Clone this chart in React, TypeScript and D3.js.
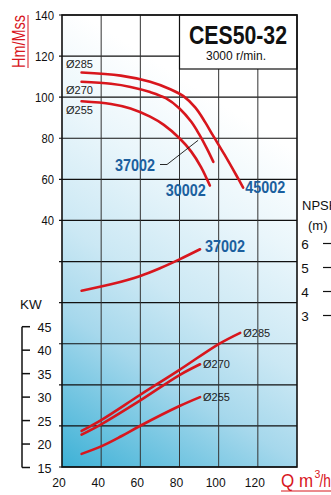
import React from "react";
import * as d3 from "d3";

// ---- data ----
const xTicks = [20, 40, 60, 80, 100, 120];
const hTicks = [40, 60, 80, 100, 120, 140];
const kwTicks = [15, 20, 25, 30, 35, 40, 45];
const npshTicks = [3, 4, 5, 6];

const q285 = [30, 50, 65, 75, 82, 88, 93, 97, 103, 109, 112.5];
const h285 = [112, 110.5, 107.5, 104, 100.5, 95, 88, 81.5, 72, 62, 56];
const q270 = [30, 45, 55, 65, 73, 80, 86, 90, 94, 97.3];
const h270 = [107.5, 106.5, 105, 102.5, 99.5, 94.5, 88, 82, 75, 68.5];
const q255 = [30, 45, 55, 65, 72, 80, 86, 91, 95.5];
const h255 = [98, 96.7, 94.5, 90.5, 86.5, 80, 73.5, 66, 57];

const qNpsh = [30, 45, 60, 70, 80, 90.5];
const npsh = [4.03, 4.3, 4.65, 4.97, 5.34, 5.76];

const qP285 = [30, 40, 60, 80, 100, 111];
const p285 = [22.8, 25.1, 30.5, 35.8, 41.3, 43.7];
const qP270 = [30, 40, 60, 80, 90.5];
const p270 = [22, 24.2, 29.3, 34.7, 37];
const qP255 = [30, 40, 50, 60, 80, 90.5];
const p255 = [17.9, 19.5, 21.6, 23.9, 28.1, 30];

const diaLabels = ["Ø285", "Ø270", "Ø255"];
const motorLabels = ["45002", "37002", "30002"];

const RED = "#d8161d";
const BLUE = "#1b5f9e";
const FONT = "'Liberation Sans', Arial, Helvetica, sans-serif";

export default function App() {
  const L = 62, R = 297, T = 15, B = 467;
  const x = d3.scaleLinear().domain([20, 140]).range([L, R]);
  const yH = d3.scaleLinear().domain([-80, 140]).range([B, T]);
  const yKW = d3.scaleLinear().domain([15, 45]).range([467.5, 326.7]);
  const yN = d3.scaleLinear().domain([3, 6]).range([315.5, 243.5]);

  const mk = (qs: number[], vs: number[], ys: d3.ScaleLinear<number, number>) =>
    d3.line<number>().x((_, i) => x(qs[i])).y((v) => ys(v)).curve(d3.curveCatmullRom.alpha(0.5))(vs) || "";

  const hGrid = d3.range(-80, 141, 20);
  const vGrid = d3.range(40, 121, 20);

  const end = (qs: number[], vs: number[], ys: any) => [x(qs[qs.length - 1]), ys(vs[vs.length - 1])];
  const e285 = end(q285, h285, yH);
  const e255 = end(q255, h255, yH);
  const eN = end(qNpsh, npsh, yN);
  const ep285 = end(qP285, p285, yKW);
  const ep270 = end(qP270, p270, yKW);
  const ep255 = end(qP255, p255, yKW);

  const curveStyle = { fill: "none", stroke: RED, strokeWidth: 2.6, strokeLinecap: "round" as const };

  return (
    <svg width={331} height={495} style={{ position: "absolute", left: 0, top: 0, fontFamily: FONT }}>
      <defs>
        <linearGradient id="bg" gradientUnits="userSpaceOnUse" x1={L} y1={B} x2={R} y2={100}>
          <stop offset="0" stopColor="#3db1d6" />
          <stop offset="0.3" stopColor="#a6d8ec" />
          <stop offset="0.47" stopColor="#cbe8f4" />
          <stop offset="0.7" stopColor="#eaf6fb" />
          <stop offset="0.9" stopColor="#ffffff" />
        </linearGradient>
      </defs>
      <rect x={0} y={0} width={331} height={495} fill="#fff" />
      <rect x={L} y={T} width={R - L} height={B - T} fill="url(#bg)" />
      {hGrid.map((v) => (
        <line key={"h" + v} x1={L - 3} x2={R} y1={yH(v)} y2={yH(v)} stroke="#111" strokeWidth={1.2} />
      ))}
      {vGrid.map((v) => (
        <line key={"v" + v} x1={x(v)} x2={x(v)} y1={T} y2={B} stroke="#333" strokeWidth={1} />
      ))}
      {/* title box */}
      <rect x={x(80)} y={T} width={R - x(80)} height={54} fill="#fff" stroke="#111" strokeWidth={1.2} />
      <text x={238} y={43.5} textAnchor="middle" fontSize={25} fontWeight="bold" textLength={98} lengthAdjust="spacingAndGlyphs" fill="#111">CES50-32</text>
      <text x={236} y={60} textAnchor="middle" fontSize={12} fill="#111">3000 r/min.</text>
      <rect x={L} y={T} width={R - L} height={B - T} fill="none" stroke="#111" strokeWidth={1.6} />

      {/* H axis labels */}
      {hTicks.map((v) => (
        <text key={"ht" + v} x={54} y={yH(v) + 5} textAnchor="end" fontSize={13.5} textLength={v >= 100 ? 19 : 12.5} lengthAdjust="spacingAndGlyphs" fill="#111">{v}</text>
      ))}
      <text transform="translate(25,41.5) rotate(-90)" textAnchor="middle" fontSize={18} textLength={53} lengthAdjust="spacingAndGlyphs" fill={RED}>Hm/Mss</text>
      <line x1={28} x2={28} y1={15} y2={68} stroke={RED} strokeWidth={1} />

      {/* KW axis */}
      <text x={20} y={309} fontSize={13.5} fill="#111">KW</text>
      <line x1={22} x2={22} y1={yKW(45)} y2={yKW(15)} stroke="#111" strokeWidth={1.5} />
      {kwTicks.map((v) => (
        <g key={"kw" + v}>
          <line x1={22} x2={30} y1={yKW(v)} y2={yKW(v)} stroke="#111" strokeWidth={1.5} />
          <text x={37.5} y={yKW(v) + 5} fontSize={13.5} textLength={14} lengthAdjust="spacingAndGlyphs" fill="#111">{v}</text>
        </g>
      ))}

      {/* X axis labels */}
      {xTicks.map((v) => (
        <text key={"xt" + v} x={x(v) - 3} y={487} textAnchor="middle" fontSize={13.5} textLength={v >= 100 ? 20 : 13.5} lengthAdjust="spacingAndGlyphs" fill="#111">{v}</text>
      ))}
      <text x={281} y={487} fontSize={19} textLength={32} lengthAdjust="spacingAndGlyphs" fill={RED}>Q m</text>
      <text x={314.5} y={478} fontSize={10.5} fill={RED}>3</text>
      <text x={319.5} y={487} fontSize={19} textLength={11.5} lengthAdjust="spacingAndGlyphs" fill={RED}>/h</text>
      <line x1={281} x2={331} y1={491} y2={491} stroke={RED} strokeWidth={1} />

      {/* NPSH axis */}
      <text x={302} y={210} fontSize={13} fill="#111">NPSH</text>
      <text x={308} y={230} fontSize={13} fill="#111">(m)</text>
      {npshTicks.map((v) => (
        <g key={"n" + v}>
          <text x={305} y={yN(v) + 5} textAnchor="middle" fontSize={13.5} fill="#111">{v}</text>
          <line x1={323} x2={331} y1={yN(v)} y2={yN(v)} stroke="#111" strokeWidth={1.2} />
        </g>
      ))}

      {/* curves */}
      <path d={mk(q285, h285, yH)} {...curveStyle} />
      <path d={mk(q270, h270, yH)} {...curveStyle} />
      <path d={mk(q255, h255, yH)} {...curveStyle} />
      <path d={mk(qNpsh, npsh, yN)} {...curveStyle} />
      <path d={mk(qP285, p285, yKW)} {...curveStyle} />
      <path d={mk(qP270, p270, yKW)} {...curveStyle} />
      <path d={mk(qP255, p255, yKW)} {...curveStyle} />

      {/* diameter labels on H curves */}
      <text x={66} y={yH(h285[0]) - 5} fontSize={11} fill="#222">{diaLabels[0]}</text>
      <text x={66} y={yH(h270[0]) + 12} fontSize={11} fill="#222">{diaLabels[1]}</text>
      <text x={66} y={yH(h255[0]) + 13} fontSize={11} fill="#222">{diaLabels[2]}</text>

      {/* power labels */}
      <text x={ep285[0] + 3} y={ep285[1] + 4} fontSize={11} fill="#222">{diaLabels[0]}</text>
      <text x={ep270[0] + 3} y={ep270[1] + 4} fontSize={11} fill="#222">{diaLabels[1]}</text>
      <text x={ep255[0] + 3} y={ep255[1] + 4} fontSize={11} fill="#222">{diaLabels[2]}</text>

      {/* motor labels */}
      <text x={e285[0] + 2} y={e285[1] + 5.5} fontSize={17} fontWeight="bold" textLength={40} lengthAdjust="spacingAndGlyphs" fill={BLUE}>{motorLabels[0]}</text>
      <text x={e255[0] - 44} y={e255[1] + 10} fontSize={17} fontWeight="bold" textLength={40} lengthAdjust="spacingAndGlyphs" fill={BLUE}>{motorLabels[2]}</text>
      <text x={115} y={171} fontSize={17} fontWeight="bold" textLength={40} lengthAdjust="spacingAndGlyphs" fill={BLUE}>{motorLabels[1]}</text>
      <polyline points={`160,164.5 167,164.5 ${x(89.5)},${yH(79)}`} fill="none" stroke="#111" strokeWidth={0.9} />
      <text x={eN[0] + 5} y={eN[1] + 3} fontSize={17} fontWeight="bold" textLength={40} lengthAdjust="spacingAndGlyphs" fill={BLUE}>{motorLabels[1]}</text>
    </svg>
  );
}
